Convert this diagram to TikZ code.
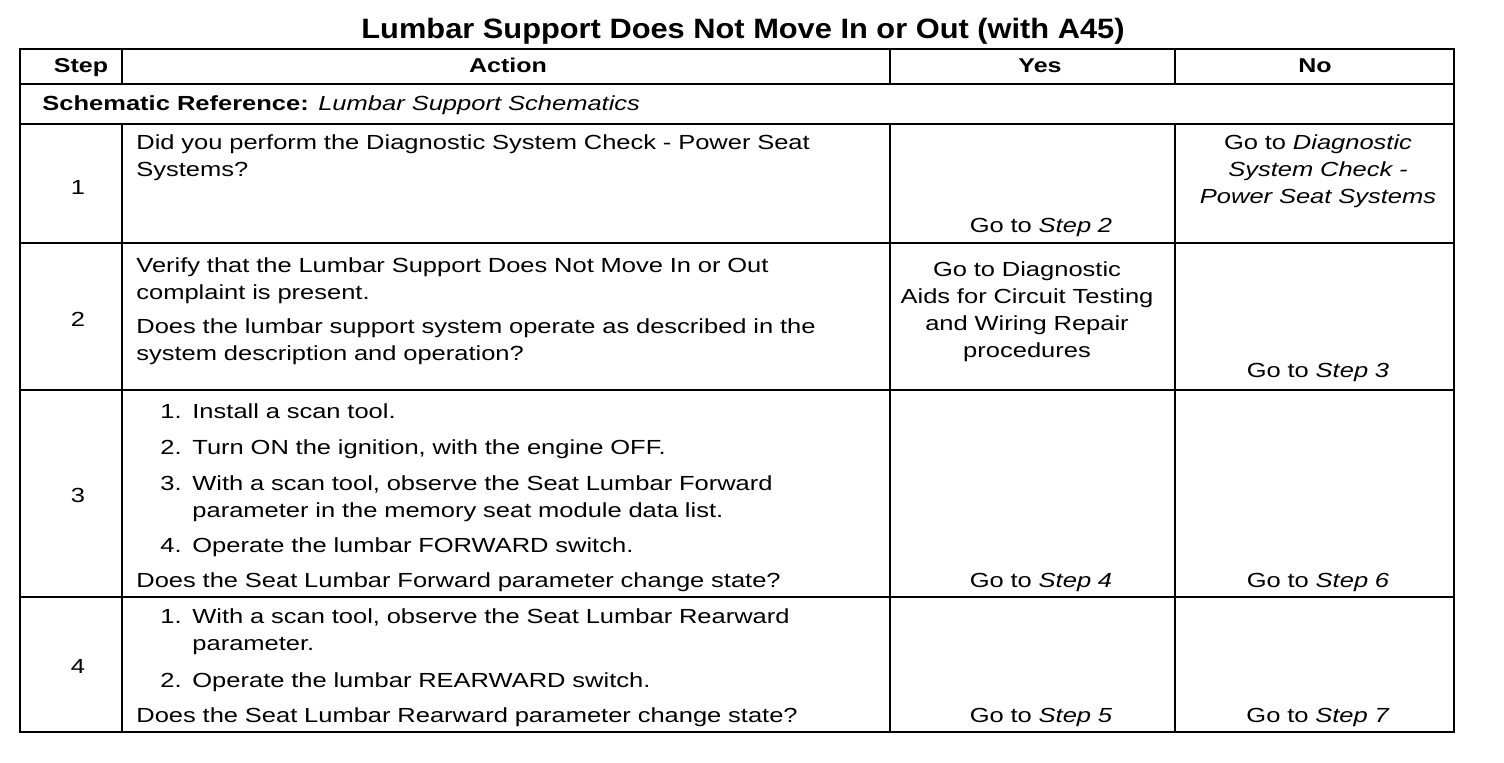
\documentclass[tikz,border=0pt]{standalone}
\usepackage{fontspec}
\setmainfont{Liberation Sans}[FakeStretch=1.25]
\newfontfamily\titlefont{Liberation Sans}[FakeStretch=1.1]

\begin{document}
\begin{tikzpicture}[
		x=0.5pt, y=-0.5pt,
		every node/.style={inner sep=0pt, font=\fontsize{10.2}{13.5}\selectfont},
		txt/.style={anchor=base west, align=left, text width=380pt},
		mid/.style={anchor=base, align=center, text width=140pt},
		head/.style={anchor=base, font=\fontsize{10}{12}\selectfont\bfseries},
		grid/.style={line width=1.3pt}
	]
	
		\useasboundingbox (0,0) rectangle (1504,762);
		
		% Title
		\node[anchor=base, font=\titlefont\fontsize{14}{16}\selectfont\bfseries] (title) at (743,38) {Lumbar Support Does Not Move In or Out (with A45)};
		
		% Grid
		\draw[grid] (20,49) rectangle (1454,732);
		\foreach \y in {84,124,243,390,597}
			\draw[grid] (20,\y) -- (1454,\y);
		\foreach \x in {122,890,1175} {
			\draw[grid] (\x,49) -- (\x,84);
			\draw[grid] (\x,124) -- (\x,732);
		}
		
		% Header
		\node[head] (hstep) at (81,72) {Step};
		\node[head] (haction) at (508,72) {Action};
		\node[head] (hyes) at (1040,72) {Yes};
		\node[head] (hno) at (1315,72) {No};
		\node[anchor=base west] (schem) at (42,110) {\textbf{Schematic Reference:} \textit{Lumbar Support Schematics}};
		
		% Step 1
		\node[anchor=base] (s1) at (78,194) {1};
		\node[txt] (a1) at (136,149) {Did you perform the Diagnostic System Check - Power Seat\\Systems?};
		\node[mid] (y1) at (1041,232) {Go to \textit{Step 2}};
		\node[mid] (n1) at (1318,149) {Go to \textit{Diagnostic}\\\textit{System Check -}\\\textit{Power Seat Systems}};
		
		% Step 2
		\node[anchor=base] (s2) at (78,326) {2};
		\node[txt] (a2a) at (136,272) {Verify that the Lumbar Support Does Not Move In or Out\\complaint is present.};
		\node[txt] (a2b) at (136,333) {Does the lumbar support system operate as described in the\\system description and operation?};
		\node[mid] (y2) at (1027,276) {Go to Diagnostic\\Aids for Circuit Testing\\and Wiring Repair\\procedures};
		\node[mid] (n2) at (1318,377) {Go to \textit{Step 3}};
		
		% Step 3
		\node[anchor=base] (s3) at (78,502) {3};
		\node[anchor=base west] (i31) at (160,418) {1.};
		\node[txt] (a31) at (192,418) {Install a scan tool.};
		\node[anchor=base west] (i32) at (160,454) {2.};
		\node[txt] (a32) at (192,454) {Turn ON the ignition, with the engine OFF.};
		\node[anchor=base west] (i33) at (160,490) {3.};
		\node[txt] (a33) at (192,490) {With a scan tool, observe the Seat Lumbar Forward\\parameter in the memory seat module data list.};
		\node[anchor=base west] (i34) at (160,552) {4.};
		\node[txt] (a34) at (192,552) {Operate the lumbar FORWARD switch.};
		\node[txt] (a3) at (136,587) {Does the Seat Lumbar Forward parameter change state?};
		\node[mid] (y3) at (1041,587) {Go to \textit{Step 4}};
		\node[mid] (n3) at (1318,587) {Go to \textit{Step 6}};
		
		% Step 4
		\node[anchor=base] (s4) at (78,673) {4};
		\node[anchor=base west] (i41) at (160,623) {1.};
		\node[txt] (a41) at (192,623) {With a scan tool, observe the Seat Lumbar Rearward\\parameter.};
		\node[anchor=base west] (i42) at (160,687) {2.};
		\node[txt] (a42) at (192,687) {Operate the lumbar REARWARD switch.};
		\node[txt] (a4) at (136,722) {Does the Seat Lumbar Rearward parameter change state?};
		\node[mid] (y4) at (1041,722) {Go to \textit{Step 5}};
		\node[mid] (n4) at (1318,722) {Go to \textit{Step 7}};
		
	\end{tikzpicture}
\end{document}
